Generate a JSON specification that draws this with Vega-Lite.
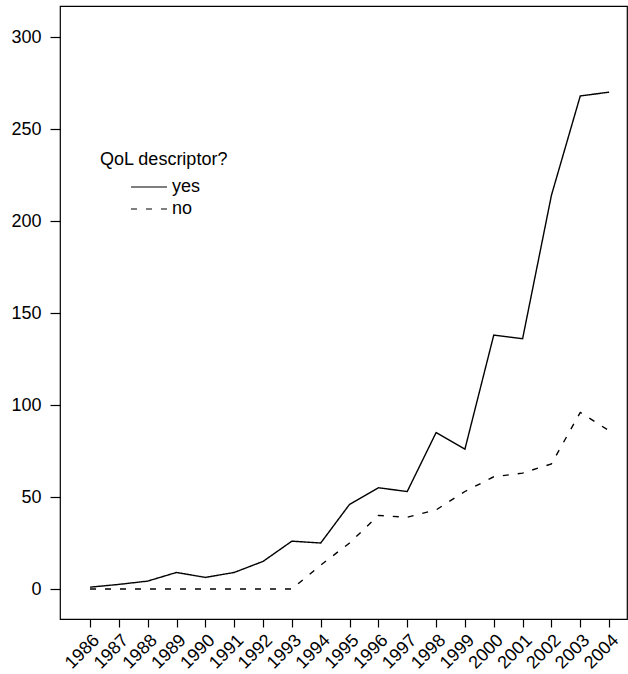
{
  "$schema": "https://vega.github.io/schema/vega-lite/v6.json",
  "width": 567,
  "height": 613,
  "padding": {"left": 60, "top": 6, "right": 1, "bottom": 55},
  "autosize": {"type": "none"},
  "background": "white",
  "config": {
    "view": {"stroke": "black", "strokeWidth": 1.2},
    "font": "Liberation Sans",
    "axis": {"grid": false, "domain": false, "tickColor": "black", "labelColor": "black", "labelFont": "Liberation Sans", "labelFontSize": 18, "tickWidth": 1.2}
  },
  "data": {
    "values": [
      {"year": 1986, "qol": "yes", "count": 1},
      {"year": 1987, "qol": "yes", "count": 2.5},
      {"year": 1988, "qol": "yes", "count": 4.3},
      {"year": 1989, "qol": "yes", "count": 9},
      {"year": 1990, "qol": "yes", "count": 6.3},
      {"year": 1991, "qol": "yes", "count": 9},
      {"year": 1992, "qol": "yes", "count": 15},
      {"year": 1993, "qol": "yes", "count": 26},
      {"year": 1994, "qol": "yes", "count": 25},
      {"year": 1995, "qol": "yes", "count": 46},
      {"year": 1996, "qol": "yes", "count": 55},
      {"year": 1997, "qol": "yes", "count": 53},
      {"year": 1998, "qol": "yes", "count": 85},
      {"year": 1999, "qol": "yes", "count": 76},
      {"year": 2000, "qol": "yes", "count": 138},
      {"year": 2001, "qol": "yes", "count": 136},
      {"year": 2002, "qol": "yes", "count": 214},
      {"year": 2003, "qol": "yes", "count": 268},
      {"year": 2004, "qol": "yes", "count": 270},
      {"year": 1986, "qol": "no", "count": 0},
      {"year": 1987, "qol": "no", "count": 0},
      {"year": 1988, "qol": "no", "count": 0},
      {"year": 1989, "qol": "no", "count": 0},
      {"year": 1990, "qol": "no", "count": 0},
      {"year": 1991, "qol": "no", "count": 0},
      {"year": 1992, "qol": "no", "count": 0},
      {"year": 1993, "qol": "no", "count": 0},
      {"year": 1994, "qol": "no", "count": 13},
      {"year": 1995, "qol": "no", "count": 25},
      {"year": 1996, "qol": "no", "count": 40},
      {"year": 1997, "qol": "no", "count": 39},
      {"year": 1998, "qol": "no", "count": 43},
      {"year": 1999, "qol": "no", "count": 53},
      {"year": 2000, "qol": "no", "count": 61},
      {"year": 2001, "qol": "no", "count": 63},
      {"year": 2002, "qol": "no", "count": 68},
      {"year": 2003, "qol": "no", "count": 96},
      {"year": 2004, "qol": "no", "count": 86}
    ]
  },
  "mark": {"type": "line", "color": "black", "strokeWidth": 1.4},
  "encoding": {
    "x": {
      "field": "year", "type": "quantitative",
      "scale": {"domain": [1984.96, 2004.62], "nice": false, "zero": false},
      "axis": {"title": null, "values": [1986,1987,1988,1989,1990,1991,1992,1993,1994,1995,1996,1997,1998,1999,2000,2001,2002,2003,2004], "format": "d", "labelAngle": -45, "tickSize": 8, "labelPadding": 4, "labelOverlap": false, "labelBound": false, "labelFlush": false}
    },
    "y": {
      "field": "count", "type": "quantitative",
      "scale": {"domain": [-16.3, 316.85], "nice": false, "zero": false},
      "axis": {"title": null, "values": [0,50,100,150,200,250,300], "tickSize": 10, "labelPadding": 9, "labelOverlap": false, "labelBound": false, "labelFlush": false}
    },
    "strokeDash": {
      "field": "qol", "type": "nominal",
      "scale": {"domain": ["yes", "no"], "range": [[1, 0], [6, 9]]},
      "legend": {
        "title": "QoL descriptor?",
        "orient": "none",
        "legendX": 40,
        "legendY": 145,
        "titleFont": "Liberation Sans",
        "titleFontSize": 18,
        "titleFontWeight": "normal",
        "titleColor": "black",
        "titlePadding": 8,
        "labelFont": "Liberation Sans",
        "labelFontSize": 18,
        "labelColor": "black",
        "labelOffset": 13,
        "symbolType": "M-2,0H2",
        "symbolSize": 324,
        "symbolStrokeColor": "black",
        "symbolStrokeWidth": 1.2,
        "symbolOffset": 39,
        "rowPadding": 3,
        "padding": 0
      }
    }
  }
}
